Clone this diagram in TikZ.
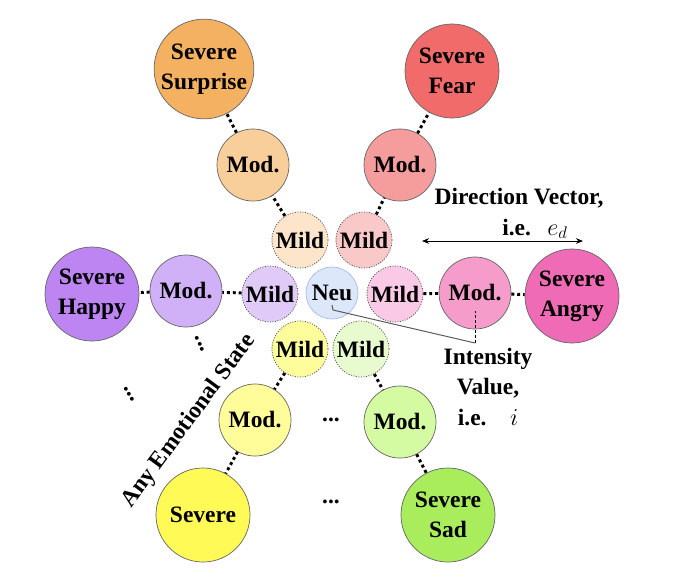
\documentclass[tikz,border=0pt]{standalone}
\usepackage{fontspec}
\setmainfont{Liberation Serif}
\usetikzlibrary{arrows.meta}

\definecolor{surL}{HTML}{FCE5CB}
\definecolor{surM}{HTML}{F8CF9B}
\definecolor{surS}{HTML}{F5B162}
\definecolor{feaL}{HTML}{F9C8C8}
\definecolor{feaM}{HTML}{F59C9C}
\definecolor{feaS}{HTML}{F26B6B}
\definecolor{angL}{HTML}{F9C9E6}
\definecolor{angM}{HTML}{F59CCB}
\definecolor{angS}{HTML}{F06BB5}
\definecolor{sadL}{HTML}{E8FBCF}
\definecolor{sadM}{HTML}{D4FBA2}
\definecolor{sadS}{HTML}{A9EC5C}
\definecolor{yelL}{HTML}{FEFD9C}
\definecolor{yelM}{HTML}{FFFC9A}
\definecolor{yelS}{HTML}{FFFA55}
\definecolor{hapL}{HTML}{E0CBF8}
\definecolor{hapM}{HTML}{D0B0F7}
\definecolor{hapS}{HTML}{BD85F2}
\definecolor{neuF}{HTML}{DCE7FA}
\definecolor{neuB}{HTML}{A7BDE6}

\begin{document}
\begin{tikzpicture}[x=0.025cm,y=-0.025cm,
    font=\fontsize{16.7}{21.5}\selectfont\bfseries]
  \useasboundingbox (0,0) rectangle (673,581);

  \begin{scope}[every node/.style={circle, draw=black!60, line width=0.5pt,
      inner sep=0pt, align=center}]
    \node[fill=neuF, draw=neuB, minimum size=1.3cm] (neu) at (332,293) {Neu};

    \begin{scope}[every node/.append style={minimum size=1.4cm,
        dash pattern=on 0.8pt off 1pt, draw=black!70}]
      \node[fill=surL] (mild1) at (300,240) {Mild};
      \node[fill=feaL] (mild2) at (364,240) {Mild};
      \node[fill=angL] (mild3) at (395,294) {Mild};
      \node[fill=sadL] (mild4) at (361,349) {Mild};
      \node[fill=yelL] (mild5) at (300,349) {Mild};
      \node[fill=hapL] (mild6) at (270,294) {Mild};
    \end{scope}

    \begin{scope}[every node/.append style={minimum size=1.8cm}]
      \node[fill=surM] (mod1) at (253,165) {Mod.};
      \node[fill=feaM] (mod2) at (400,165) {Mod.};
      \node[fill=angM] (mod3) at (475,293) {Mod.};
      \node[fill=sadM] (mod4) at (400,422) {Mod.};
      \node[fill=yelM] (mod5) at (255,420) {Mod.};
      \node[fill=hapM] (mod6) at (186,291) {Mod.};
    \end{scope}

    \begin{scope}[every node/.append style={minimum size=2.35cm}]
      \node[fill=surS] (sev1) at (204,69)  {Severe\\Surprise};
      \node[fill=feaS] (sev2) at (452,71)  {Severe\\Fear};
      \node[fill=angS] (sev3) at (572,296) {Severe\\Angry};
      \node[fill=sadS] (sev4) at (448,515) {Severe\\Sad};
      \node[fill=yelS] (sev5) at (203,515) {Severe};
      \node[fill=hapS] (sev6) at (92,294)  {Severe\\Happy};
    \end{scope}
  \end{scope}

  \begin{scope}[every edge/.style={draw, line width=2.1pt,
      dash pattern=on 2.1pt off 2.1pt}]
    \path (mild1) edge (mod1);
    \path (mod1)  edge (sev1);
    \path (mild2) edge (mod2);
    \path (mod2)  edge (sev2);
    \path (mild3) edge (mod3);
    \path (mod3)  edge (sev3);
    \path (mild4) edge (mod4);
    \path (mod4)  edge (sev4);
    \path (mild5) edge (mod5);
    \path (mod5)  edge (sev5);
    \path (mild6) edge (mod6);
    \path (mod6)  edge (sev6);
  \end{scope}

  % more states
  \node (dots1) at (331,420) {...};
  \node (dots2) at (331,502) {...};
  \node[rotate=-62] (dots3) at (200,344) {...};
  \node[rotate=-60] (dots4) at (129,394) {...};
  \node[rotate=53.6] (anystate) at (189,421) {Any Emotional State};

  % direction
  \node (dirlab) at (519,198) {Direction Vector,};
  \node (dirmath) at (535,229) {i.e.\hspace{0.7em}$e_d$};
  \coordinate (arrL) at (422,241);
  \coordinate (arrR) at (583,241);
  \draw[{Stealth[length=5pt,width=4pt]}-{Stealth[length=5pt,width=4pt]}, line width=0.6pt] (arrL) -- (arrR);

  % intensity
  \node[align=center] (intlab) at (488,387) {Intensity\\Value,\\i.e.\quad$i$};
  \coordinate (neuT) at (332,305);
  \coordinate (neuI) at (333,310);
  \coordinate (knee) at (475,343);
  \coordinate (modT) at (475,311);
  \draw[black!65, line width=0.7pt] (neuT) -- (neuI) -- (knee);
  \draw[line width=0.7pt, dash pattern=on 2pt off 1.6pt] (knee) -- (modT);

\end{tikzpicture}
\end{document}
